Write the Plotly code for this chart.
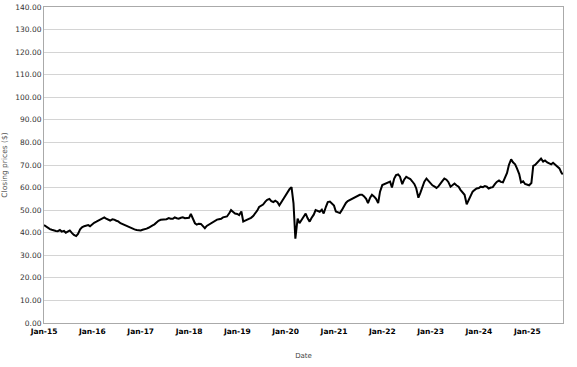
import pandas as pd
import plotly.graph_objects as go

# Semi-monthly closing prices (1st and 15th of each month)
close_2015 = [43.4, 42.8, 42.2, 41.6, 41.3, 41.0, 40.8, 40.7, 41.2, 40.5, 40.8, 40.0,
              40.6, 41.0, 39.8, 39.0, 38.5, 39.5, 41.5, 42.4, 42.9, 43.2, 43.4, 42.9]
close_2016 = [43.8, 44.4, 44.9, 45.3, 45.8, 46.3, 46.8, 46.2, 45.6, 45.4, 45.9, 45.8,
              45.3, 45.0, 44.2, 43.8, 43.4, 42.9, 42.6, 42.2, 41.9, 41.5, 41.2, 41.0]
close_2017 = [41.0, 41.3, 41.5, 41.8, 42.2, 42.8, 43.3, 43.7, 44.6, 45.3, 45.7, 45.8,
              45.6, 46.0, 46.5, 46.2, 46.2, 46.8, 46.4, 46.2, 46.6, 46.8, 46.4, 46.5]
close_2018 = [46.6, 48.3, 46.0, 44.2, 43.6, 44.0, 43.9, 42.9, 42.0, 43.0, 43.6, 44.2,
              44.8, 45.3, 45.8, 46.0, 46.2, 46.8, 47.0, 47.2, 48.6, 50.0, 49.2, 48.5]
close_2019 = [48.3, 47.8, 49.4, 45.0, 45.4, 45.8, 46.0, 46.6, 47.4, 48.3, 49.8, 51.4,
              51.8, 52.5, 53.8, 54.6, 55.0, 54.0, 53.6, 54.2, 53.5, 52.1, 53.6, 55.0]
close_2020 = [56.5, 57.8, 59.4, 60.2, 53.0, 37.4, 46.3, 44.2, 45.5, 47.0, 48.5, 46.5,
              44.9, 46.5, 48.0, 50.0, 49.6, 49.3, 50.2, 48.5, 51.5, 53.6, 53.8, 53.1]
close_2021 = [52.0, 49.4, 49.0, 48.7, 50.0, 51.5, 53.2, 54.0, 54.5, 55.0, 55.3, 56.0,
              56.4, 56.8, 56.8, 56.2, 55.0, 53.1, 55.5, 56.8, 56.0, 55.0, 53.1, 58.2]
close_2022 = [61.1, 61.5, 61.8, 62.2, 62.6, 60.0, 64.0, 65.5, 65.8, 64.8, 61.5, 63.5,
              64.8, 64.3, 63.8, 62.8, 61.5, 59.6, 55.5, 57.5, 60.5, 62.6, 64.0, 63.0]
close_2023 = [61.8, 61.0, 60.4, 59.8, 60.5, 61.8, 63.0, 64.0, 63.5, 62.5, 60.4, 61.0,
              61.8, 61.0, 60.4, 59.0, 57.8, 56.8, 52.6, 54.5, 56.8, 58.2, 59.0, 59.6]
close_2024 = [59.8, 60.4, 60.2, 60.7, 60.4, 59.6, 60.0, 60.2, 61.5, 62.5, 63.1, 62.5,
              62.3, 64.0, 66.5, 70.0, 72.5, 71.2, 70.3, 68.5, 66.0, 62.3, 62.8, 61.6]
close_2025 = [61.2, 61.0, 62.0, 69.6, 70.0, 71.0, 72.0, 72.8, 71.5, 72.0, 71.1, 70.8,
              70.3, 71.0, 70.0, 69.6, 68.5, 66.7, 65.8]

semi_monthly = pd.date_range("2015-01-01", "2025-09-15", freq="SMS")
dates = list(semi_monthly.strftime("%Y-%m-%d")) + ["2025-09-26"]
closes = (close_2015 + close_2016 + close_2017 + close_2018 + close_2019 + close_2020
          + close_2021 + close_2022 + close_2023 + close_2024 + close_2025)

tick_dates = [f"{y}-01-01" for y in range(2015, 2026)]
tick_labels = [f"Jan-{str(y)[2:]}" for y in range(2015, 2026)]

fig = go.Figure(go.Scatter(x=dates, y=closes, mode="lines",
                           line=dict(color="black", width=2), hoverinfo="skip"))

fig.update_layout(
    width=577, height=367,
    margin=dict(l=44, r=14, t=3, b=44),
    paper_bgcolor="white", plot_bgcolor="white",
    showlegend=False,
    font=dict(family="DejaVu Sans", color="#333333"),
)
fig.update_xaxes(
    range=["2015-01-01", "2025-09-28"],
    tickvals=tick_dates, ticktext=tick_labels,
    tickfont=dict(size=7.5, color="black", weight="bold"),
    showgrid=False, showline=True, linecolor="#aaaaaa", linewidth=1, mirror=True,
    ticks="", zeroline=False, ticklabelstandoff=1,
    title=dict(text="Date", font=dict(size=7, color="#444444"), standoff=18),
)
fig.update_yaxes(
    range=[0, 140], dtick=10, tickformat=".2f",
    tickfont=dict(size=7.5, color="#333333"), ticklabeloverflow="allow",
    showgrid=True, gridcolor="#d4d4d4", gridwidth=1,
    showline=True, linecolor="#aaaaaa", linewidth=1, mirror=True,
    ticks="", zeroline=False,
    title=dict(text="Closing prices ($)", font=dict(size=7.5, color="#555555"), standoff=6),
)

fig.write_html("out.html", config={"displayModeBar": False},
               post_script="document.body.style.margin='0';")
